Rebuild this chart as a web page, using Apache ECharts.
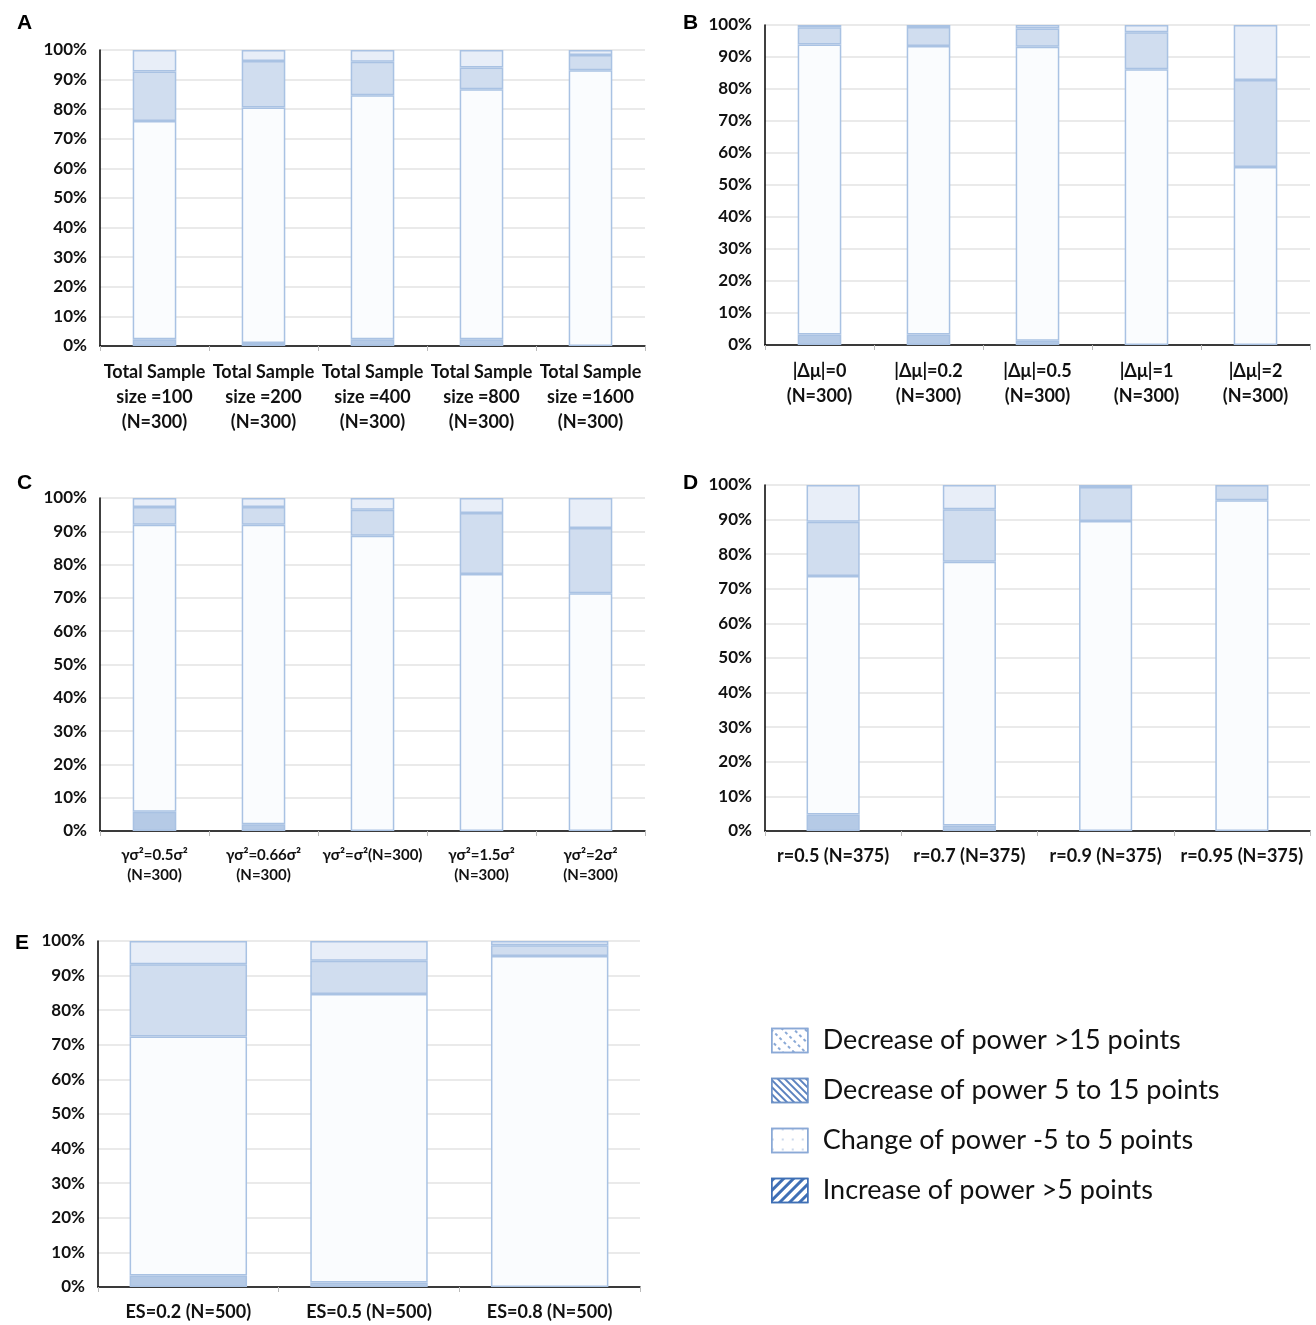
<!DOCTYPE html>
<html>
<head>
<meta charset="utf-8">
<script src="https://cdn.jsdelivr.net/npm/echarts@6/dist/echarts.min.js"></script>
<style>
  html, body { margin: 0; padding: 0; background: #fff; }
  #chart { width: 1316px; height: 1325px; }
</style>
</head>
<body>
<div id="chart"></div>
<script>
// series names (legend order, top to bottom)
var names = ['Decrease of power >15 points', 'Decrease of power 5 to 15 points',
             'Change of power -5 to 5 points', 'Increase of power >5 points'];

// panel A
var catsA = ['Total Sample\nsize =100\n(N=300)', 'Total Sample\nsize =200\n(N=300)', 'Total Sample\nsize =400\n(N=300)',
             'Total Sample\nsize =800\n(N=300)', 'Total Sample\nsize =1600\n(N=300)'];
var incA    = [2.3, 1.0, 2.3, 2.3, 0];
var changeA = [73.7, 79.6, 82.4, 84.4, 93.2];
var dec515A = [16.7, 15.7, 11.3, 7.4, 5.1];
var dec15A  = [7.3, 3.7, 4.0, 5.9, 1.7];

// panel B
var catsB = ['|Δμ|=0\n(N=300)', '|Δμ|=0.2\n(N=300)', '|Δμ|=0.5\n(N=300)', '|Δμ|=1\n(N=300)', '|Δμ|=2\n(N=300)'];
var incB    = [3.3, 3.3, 1.3, 0, 0];
var changeB = [90.6, 90.1, 91.9, 86.2, 55.6];
var dec515B = [5.4, 6.0, 5.7, 11.5, 27.2];
var dec15B  = [0.7, 0.6, 1.1, 2.3, 17.2];

// panel C
var catsC = ['γσ²=0.5σ²\n(N=300)', 'γσ²=0.66σ²\n(N=300)', 'γσ²=σ²(N=300)', 'γσ²=1.5σ²\n(N=300)', 'γσ²=2σ²\n(N=300)'];
var incC    = [5.8, 2.0, 0, 0, 0];
var changeC = [86.2, 90.0, 88.7, 77.2, 71.4];
var dec515C = [5.3, 5.3, 7.8, 18.3, 19.6];
var dec15C  = [2.7, 2.7, 3.5, 4.5, 9.0];

// panel D
var catsD = ['r=0.5 (N=375)', 'r=0.7 (N=375)', 'r=0.9 (N=375)', 'r=0.95 (N=375)'];
var incD    = [4.8, 1.6, 0, 0];
var changeD = [68.9, 76.2, 89.6, 95.6];
var dec515D = [15.7, 15.2, 9.8, 4.4];
var dec15D  = [10.6, 7.0, 0.6, 0];

// panel E
var catsE = ['ES=0.2 (N=500)', 'ES=0.5 (N=500)', 'ES=0.8 (N=500)'];
var incE    = [3.3, 1.3, 0];
var changeE = [69.1, 83.4, 95.7];
var dec515E = [20.9, 9.6, 3.1];
var dec15E  = [6.7, 5.7, 1.2];

var fills = { inc: '#b5cae6', change: '#fafcfe', dec515: '#d0ddef', dec15: '#e8eef8' };
var border = '#a9c2e3';
var font = 'Lato, "Open Sans", sans-serif';

var panels = [
    { key: 'A', cats: catsA, data: [incA, changeA, dec515A, dec15A], grid: { left: 100, top: 50, width: 545, height: 296 }, bw: '40%', fs: 18, lh: 25 },
    { key: 'B', cats: catsB, data: [incB, changeB, dec515B, dec15B], grid: { left: 765, top: 25, width: 545, height: 320 }, bw: '40%', fs: 18, lh: 25 },
    { key: 'C', cats: catsC, data: [incC, changeC, dec515C, dec15C], grid: { left: 100, top: 498, width: 545, height: 333 }, bw: '40%', fs: 15, lh: 20 },
    { key: 'D', cats: catsD, data: [incD, changeD, dec515D, dec15D], grid: { left: 765, top: 485, width: 545, height: 346 }, bw: '39%', fs: 18, lh: 22 },
    { key: 'E', cats: catsE, data: [incE, changeE, dec515E, dec15E], grid: { left: 98, top: 941, width: 542, height: 346 }, bw: '65%', fs: 18, lh: 22 }
];

var titlePos = { A: [12, 8], B: [678, 8], C: [12, 468], D: [678, 468], E: [10, 928] };

var grids = [], xAxes = [], yAxes = [], series = [], titles = [];
var order = [['inc', names[3]], ['change', names[2]], ['dec515', names[1]], ['dec15', names[0]]];

panels.forEach(function (p, i) {
    grids.push(p.grid);
    titles.push({ text: p.key, left: titlePos[p.key][0], top: titlePos[p.key][1],
        textStyle: { fontFamily: 'Liberation Sans, Arial, sans-serif', fontWeight: 'bold', fontSize: 21, color: '#000' } });
    xAxes.push({
        type: 'category', gridIndex: i, data: p.cats,
        axisLine: { lineStyle: { color: '#000', width: 1.5 } },
        axisTick: { show: true, length: 5, lineStyle: { color: '#bbb' } },
        axisLabel: { interval: 0, margin: 14, color: '#111', fontFamily: font, fontWeight: 'bold',
                     fontSize: p.fs, lineHeight: p.lh }
    });
    yAxes.push({
        type: 'value', gridIndex: i, min: 0, max: 100, interval: 10,
        axisLine: { show: true, lineStyle: { color: '#000', width: 1.5 } },
        axisTick: { show: false },
        splitLine: { lineStyle: { color: '#e3e3e3', width: 1.5 } },
        axisLabel: { margin: 13, color: '#111', fontFamily: font, fontWeight: 'bold', fontSize: 17,
                     formatter: function (v) { return v + '%'; } }
    });
    order.forEach(function (o, j) {
        series.push({
            name: o[1], type: 'bar', stack: p.key, xAxisIndex: i, yAxisIndex: i,
            barWidth: p.bw,
            // empty segments are not drawn
            data: p.data[j].map(function (v) { return v === 0 ? '-' : v; }),
            itemStyle: { color: fills[o[0]], borderColor: border, borderWidth: 1.5 },
            emphasis: { disabled: true }
        });
    });
});

var chart = echarts.init(document.getElementById('chart'));
chart.setOption({
    backgroundColor: '#fff',
    animation: false,
    title: titles,
    grid: grids,
    xAxis: xAxes,
    yAxis: yAxes,
    legend: {
        orient: 'vertical', left: 766, top: 1022,
        itemWidth: 36, itemHeight: 24, itemGap: 23,
        textStyle: { fontFamily: font, fontSize: 27, color: '#111', padding: [0, 0, 0, 10] },
        data: [
            { name: names[0], icon: 'rect', itemStyle: { color: '#fff', borderColor: '#8aa9d6', borderWidth: 1.5,
                decal: { symbol: 'rect', color: '#8aa9d6', dashArrayX: [[3, 3]], dashArrayY: [2, 6], rotation: Math.PI / 4, symbolSize: 1 } } },
            { name: names[1], icon: 'rect', itemStyle: { color: '#fff', borderColor: '#6f93c8', borderWidth: 1.5,
                decal: { symbol: 'rect', color: '#5b82bf', dashArrayX: [1, 0], dashArrayY: [2, 3], rotation: Math.PI / 4, symbolSize: 1 } } },
            { name: names[2], icon: 'rect', itemStyle: { color: '#fff', borderColor: '#8aa9d6', borderWidth: 1.5,
                decal: { symbol: 'circle', color: '#8aa9d6', dashArrayX: [[2, 8]], dashArrayY: [2, 8], symbolSize: 0.8 } } },
            { name: names[3], icon: 'rect', itemStyle: { color: '#fff', borderColor: '#3f6fb5', borderWidth: 1.5,
                decal: { symbol: 'rect', color: '#3f6fb5', dashArrayX: [1, 0], dashArrayY: [3, 4], rotation: -Math.PI / 4, symbolSize: 1 } } }
        ]
    },
    series: series
});
</script>
</body>
</html>
